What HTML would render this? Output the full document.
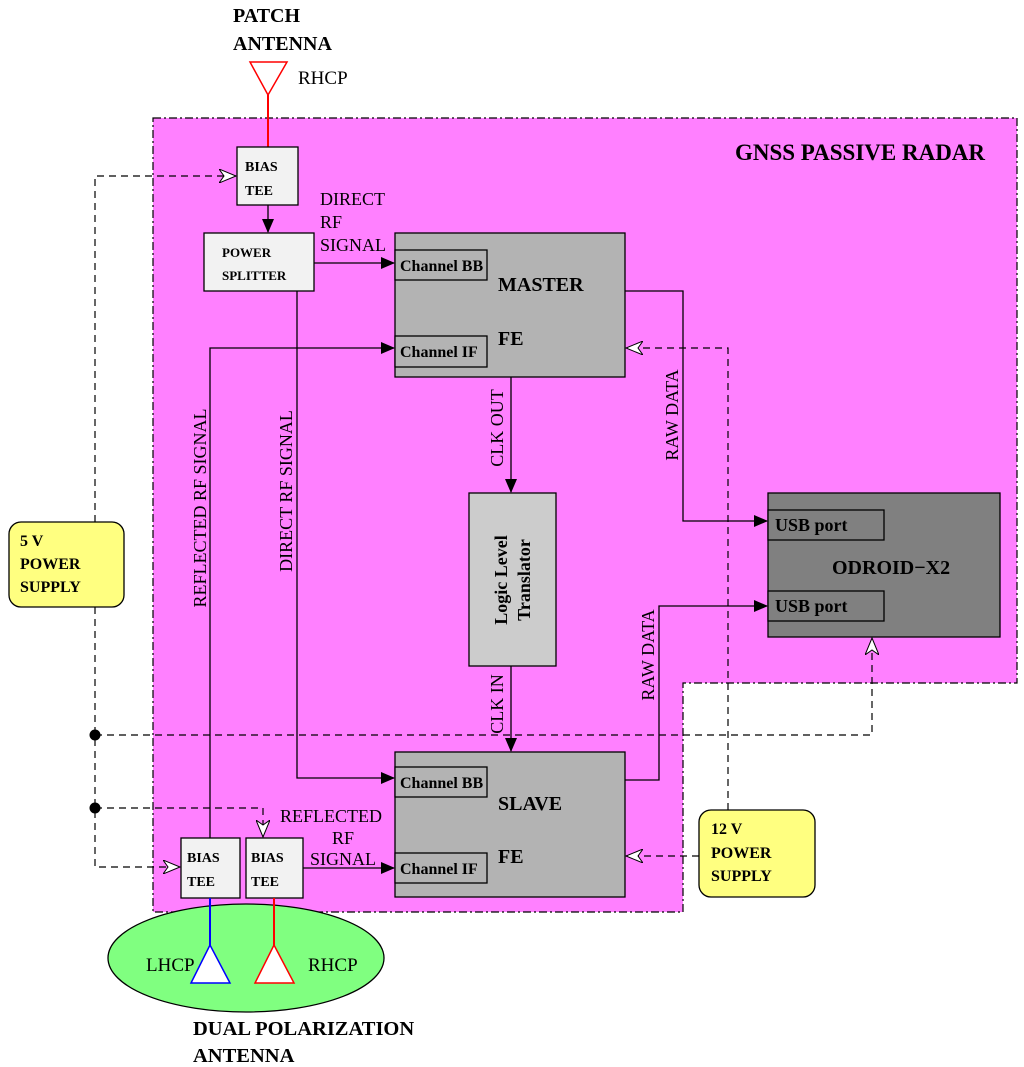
<!DOCTYPE html>
<html><head><meta charset="utf-8"><style>html,body{margin:0;padding:0;background:#fff}svg{display:block}</style></head>
<body>
<svg width="1024" height="1067" viewBox="0 0 1024 1067" xmlns="http://www.w3.org/2000/svg" font-family="Liberation Serif, serif">
<defs>
<marker id="fa" markerWidth="14" markerHeight="12" refX="13" refY="6" orient="auto" markerUnits="userSpaceOnUse"><path d="M0,0 L14,6 L0,12 z" fill="#000"/></marker>
<marker id="oa" markerWidth="18" markerHeight="14" refX="17" refY="7" orient="auto" markerUnits="userSpaceOnUse"><path d="M0,0 L17,7 L0,14 L5,7 z" fill="#fff" stroke="#000" stroke-width="1"/></marker>
</defs>
<polygon points="153,118 1017,118 1017,683 683,683 683,912 153,912" fill="#ff80ff" stroke="#000" stroke-width="1.2" stroke-dasharray="8,3,2,3"/>
<text x="860" y="160" font-size="23" font-weight="bold" text-anchor="middle">GNSS PASSIVE RADAR</text>
<text x="233" y="22" font-size="20" font-weight="bold">PATCH</text>
<text x="233" y="50" font-size="20" font-weight="bold">ANTENNA</text>
<polygon points="250,62 287,62 268,95" fill="#fff" stroke="#f00" stroke-width="1.5"/>
<line x1="268" y1="95" x2="268" y2="147" stroke="#f00" stroke-width="2"/>
<text x="298" y="84" font-size="19">RHCP</text>
<g stroke="#000" stroke-width="1.3" fill="none">
<line x1="268" y1="205" x2="268" y2="232" marker-end="url(#fa)"/>
<line x1="314" y1="263" x2="394" y2="263" marker-end="url(#fa)"/>
<polyline points="210,838 210,348 394,348" marker-end="url(#fa)"/>
<polyline points="297,291 297,778 394,778" marker-end="url(#fa)"/>
<line x1="511" y1="377" x2="511" y2="492" marker-end="url(#fa)"/>
<line x1="511" y1="666" x2="511" y2="751" marker-end="url(#fa)"/>
<polyline points="625,291 683,291 683,521 767,521" marker-end="url(#fa)"/>
<polyline points="625,780 659,780 659,606 767,606" marker-end="url(#fa)"/>
<line x1="303" y1="868" x2="394" y2="868" marker-end="url(#fa)"/>
</g>
<g stroke="#000" stroke-width="1.2" fill="none" stroke-dasharray="7,5">
<polyline points="95,522 95,176 236,176" marker-end="url(#oa)"/>
<polyline points="95,607 95,867 180,867" marker-end="url(#oa)"/>
<polyline points="95,735 872,735 872,638" marker-end="url(#oa)"/>
<polyline points="95,808 263,808 263,837" marker-end="url(#oa)"/>
<polyline points="728,810 728,348 626,348" marker-end="url(#oa)"/>
<line x1="699" y1="856" x2="626" y2="856" marker-end="url(#oa)"/>
</g>
<circle cx="95" cy="735" r="5.5" fill="#000"/>
<circle cx="95" cy="808" r="5.5" fill="#000"/>
<g stroke="#000" stroke-width="1.3">
<rect x="237" y="147" width="61" height="58" fill="#f2f2f2"/>
<rect x="204" y="233" width="110" height="58" fill="#f2f2f2"/>
<rect x="395" y="233" width="230" height="144" fill="#b3b3b3"/>
<rect x="395" y="250" width="92" height="30" fill="#b3b3b3"/>
<rect x="395" y="336" width="92" height="31" fill="#b3b3b3"/>
<rect x="395" y="752" width="230" height="145" fill="#b3b3b3"/>
<rect x="395" y="767" width="92" height="30" fill="#b3b3b3"/>
<rect x="395" y="853" width="92" height="30" fill="#b3b3b3"/>
<rect x="469" y="493" width="87" height="173" fill="#cccccc"/>
<rect x="768" y="493" width="232" height="144" fill="#808080"/>
<rect x="768" y="510" width="116" height="30" fill="#808080"/>
<rect x="768" y="591" width="116" height="30" fill="#808080"/>
<rect x="9" y="522" width="115" height="85" rx="12" fill="#ffff80"/>
<rect x="699" y="810" width="116" height="87" rx="12" fill="#ffff80"/>
<rect x="181" y="838" width="59" height="60" fill="#f2f2f2"/>
<rect x="246" y="838" width="57" height="60" fill="#f2f2f2"/>
<ellipse cx="246" cy="958" rx="138" ry="54" fill="#80ff80"/>
</g>
<line x1="210" y1="898" x2="210" y2="948" stroke="#00f" stroke-width="2"/>
<line x1="274" y1="898" x2="274" y2="948" stroke="#f00" stroke-width="2"/>
<polygon points="191,983 230,983 210,945" fill="#fff" stroke="#00f" stroke-width="1.5"/>
<polygon points="255,983 294,983 274,945" fill="#fff" stroke="#f00" stroke-width="1.5"/>
<g font-size="14" font-weight="bold">
<text x="245" y="171">BIAS</text><text x="245" y="195">TEE</text>
<text x="222" y="257" font-size="13">POWER</text><text x="222" y="280" font-size="13">SPLITTER</text>
<text x="400" y="271" font-size="16">Channel BB</text><text x="400" y="357" font-size="16">Channel IF</text>
<text x="400" y="788" font-size="16">Channel BB</text><text x="400" y="874" font-size="16">Channel IF</text>
<text x="775" y="531" font-size="18">USB port</text><text x="775" y="612" font-size="18">USB port</text>
<text x="187" y="862">BIAS</text><text x="187" y="886">TEE</text>
<text x="251" y="862">BIAS</text><text x="251" y="886">TEE</text>
<text x="20" y="546" font-size="16">5 V</text><text x="20" y="569" font-size="16">POWER</text><text x="20" y="592" font-size="16">SUPPLY</text>
<text x="711" y="834" font-size="16">12 V</text><text x="711" y="858" font-size="16">POWER</text><text x="711" y="881" font-size="16">SUPPLY</text>
</g>
<g font-size="20" font-weight="bold">
<text x="498" y="291">MASTER</text><text x="498" y="345">FE</text>
<text x="498" y="810">SLAVE</text><text x="498" y="863">FE</text>
<text x="832" y="574">ODROID−X2</text>
<text x="193" y="1035" font-size="20.5">DUAL POLARIZATION</text><text x="193" y="1062" font-size="20.5">ANTENNA</text>
<text transform="translate(507,580) rotate(-90)" text-anchor="middle" font-size="18">Logic Level</text>
<text transform="translate(530,580) rotate(-90)" text-anchor="middle" font-size="18">Translator</text>
</g>
<g font-size="18">
<text x="320" y="205">DIRECT</text><text x="320" y="228">RF</text><text x="320" y="251">SIGNAL</text>
<text x="280" y="822">REFLECTED</text><text x="332" y="844">RF</text><text x="310" y="865">SIGNAL</text>
<text x="146" y="971" font-size="19">LHCP</text><text x="308" y="971" font-size="19">RHCP</text>
<text transform="translate(206,508) rotate(-90)" text-anchor="middle">REFLECTED RF SIGNAL</text>
<text transform="translate(292,491) rotate(-90)" text-anchor="middle">DIRECT RF SIGNAL</text>
<text transform="translate(503,428) rotate(-90)" text-anchor="middle">CLK OUT</text>
<text transform="translate(503,704) rotate(-90)" text-anchor="middle">CLK IN</text>
<text transform="translate(678,415) rotate(-90)" text-anchor="middle">RAW DATA</text>
<text transform="translate(654,655) rotate(-90)" text-anchor="middle">RAW DATA</text>
</g>
</svg>
</body></html>
